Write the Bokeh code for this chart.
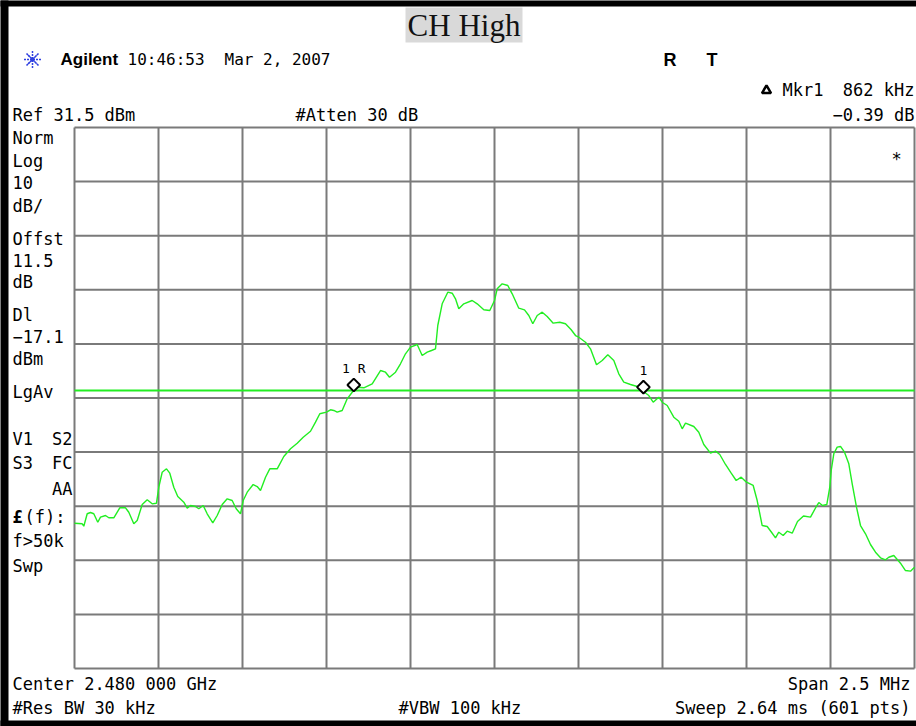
from bokeh.plotting import figure
from bokeh.models import Range1d
from bokeh.core.properties import value
from bokeh.embed import file_html
from bokeh.resources import INLINE

# ---------------- data ----------------
CENTER_GHZ = 2.480
SPAN_MHZ = 2.5
REF_DBM = 31.5
DB_PER_DIV = 10
N_DIV = 10
DISPLAY_LINE_DBM = -17.1

freq_offset_mhz = [-1.2500, -1.2271, -1.2223, -1.2122, -1.2024, -1.1926, -1.1807, -1.1726, -1.1577, -1.1479,
    -1.1330, -1.1152, -1.0982, -1.0884, -1.0735, -1.0634, -1.0485, -1.0336, -1.0188, -1.0060,
    -0.9991, -0.9890, -0.9762, -0.9664, -0.9545, -0.9426, -0.9247, -0.9146, -0.9048, -0.8899,
    -0.8801, -0.8670, -0.8551, -0.8384, -0.8253, -0.8104, -0.7955, -0.7807, -0.7688, -0.7560,
    -0.7479, -0.7360, -0.7182, -0.7063, -0.6964, -0.6815, -0.6688, -0.6467, -0.6271, -0.6071,
    -0.5872, -0.5693, -0.5476, -0.5327, -0.5199, -0.5000, -0.4881, -0.4783, -0.4682, -0.4533,
    -0.4384, -0.4235, -0.4086, -0.3890, -0.3640, -0.3393, -0.3244, -0.3125, -0.2946, -0.2798,
    -0.2649, -0.2500, -0.2301, -0.2152, -0.2003, -0.1875, -0.1756, -0.1688, -0.1557, -0.1390,
    -0.1259, -0.1161, -0.1063, -0.0914, -0.0664, -0.0515, -0.0318, -0.0140, 0.0000, 0.0080,
    0.0229, 0.0396, 0.0527, 0.0723, 0.0893, 0.1021, 0.1140, 0.1271, 0.1420, 0.1568,
    0.1747, 0.1943, 0.2113, 0.2283, 0.2411, 0.2509, 0.2708, 0.2857, 0.3036, 0.3205,
    0.3372, 0.3551, 0.3699, 0.3848, 0.4048, 0.4247, 0.4464, 0.4592, 0.4723, 0.4890,
    0.4991, 0.5140, 0.5336, 0.5485, 0.5586, 0.5685, 0.5932, 0.6080, 0.6229, 0.6429,
    0.6577, 0.6705, 0.6875, 0.7045, 0.7193, 0.7342, 0.7500, 0.7699, 0.7818, 0.7967,
    0.8116, 0.8244, 0.8363, 0.8461, 0.8592, 0.8711, 0.8860, 0.9018, 0.9196, 0.9405,
    0.9554, 0.9652, 0.9762, 0.9890, 0.9979, 1.0021, 1.0098, 1.0199, 1.0298, 1.0417,
    1.0545, 1.0646, 1.0774, 1.0893, 1.1042, 1.1190, 1.1339, 1.1488, 1.1637, 1.1735,
    1.1884, 1.2083, 1.2232, 1.2381, 1.2500]

level_dbm = [-41.64, -41.75, -42.20, -39.90, -39.66, -39.90, -41.46, -40.53, -40.22, -40.64,
    -40.64, -38.80, -38.80, -39.61, -41.75, -41.14, -38.19, -37.32, -38.06, -37.95,
    -34.99, -32.22, -31.59, -32.40, -34.99, -36.71, -37.76, -38.87, -38.37, -38.56,
    -38.98, -38.37, -39.90, -41.57, -40.22, -38.19, -37.13, -37.45, -38.98, -39.90,
    -37.45, -35.91, -34.49, -34.86, -35.60, -33.14, -31.59, -31.59, -29.31, -27.89,
    -26.85, -25.75, -24.64, -22.97, -21.42, -21.12, -20.68, -20.81, -21.12, -20.81,
    -18.65, -17.43, -16.50, -16.61, -15.88, -13.42, -13.73, -14.66, -13.73, -12.18,
    -10.33, -9.11, -8.61, -10.64, -10.03, -9.72, -9.41, -5.10, -1.09, 1.06,
    0.87, -0.16, -2.01, -1.09, -0.48, -1.09, -2.20, -2.33, -0.48, 1.68,
    2.61, 2.29, 0.76, -1.90, -2.20, -3.25, -4.78, -3.25, -2.64, -3.44,
    -4.67, -4.49, -4.78, -5.89, -6.95, -7.26, -8.19, -9.41, -12.36, -11.57,
    -10.51, -11.57, -14.03, -15.58, -16.00, -16.37, -17.43, -18.04, -19.28, -18.35,
    -19.28, -19.89, -22.05, -22.79, -24.19, -23.16, -23.77, -24.82, -27.10, -28.70,
    -28.33, -28.94, -30.79, -32.40, -33.75, -33.14, -34.06, -34.67, -37.45, -42.07,
    -42.25, -43.31, -44.34, -43.31, -43.92, -43.12, -43.49, -41.33, -40.31, -40.53,
    -38.83, -37.82, -38.37, -38.19, -34.99, -31.90, -28.81, -27.59, -27.46, -28.52,
    -30.66, -34.36, -38.68, -42.07, -43.60, -45.58, -47.00, -48.04, -48.41, -47.93,
    -47.61, -49.04, -50.39, -50.51, -49.77]

assert len(freq_offset_mhz) == len(level_dbm)

MKR_REF_FREQ = -0.4188      # MHz offset of marker "1R"
MKR_REF_LEVEL = -16.1       # dBm (diamond)
MKR_DELTA_FREQ = 0.862      # MHz
MKR_DELTA_DB = -0.39        # dB

# ---------------- layout ----------------
W, H = 916, 726
GX0, GX1 = 74, 914      # grid left/right in canvas px
GY0, GY1 = 127, 668     # grid top/bottom in canvas px
ppm = (GX1 - GX0) / SPAN_MHZ
ppd = (GY1 - GY0) / (N_DIV * DB_PER_DIV)
x_start = -SPAN_MHZ / 2 - GX0 / ppm
x_end = x_start + W / ppm
y_top = REF_DBM + GY0 / ppd
y_bot = y_top - H / ppd


def X(rx):
    return x_start + rx / ppm


def Y(ry):
    return y_top - ry / ppd


p = figure(width=W, height=H, x_range=Range1d(x_start, x_end), y_range=Range1d(y_bot, y_top),
           x_axis_type=None, y_axis_type=None, toolbar_location=None, output_backend="svg",
           min_border=0, min_border_left=0, min_border_right=0, min_border_top=0, min_border_bottom=0)
p.outline_line_color = None
p.background_fill_color = "white"
p.border_fill_color = "white"

MONO = "DejaVu Sans Mono"


def txt(rx, ry, s, size=17, font=MONO, align="left", style="normal", color="black"):
    p.text(x=[X(rx)], y=[Y(ry)], text=[s], text_font=value(font), text_font_size=f"{size}px",
           text_align=align, text_baseline="middle", text_font_style=style, text_color=color)


# black frame bars (left, top, bottom)
p.quad(left=[X(-10), X(-10), X(-10)], right=[X(8), X(930), X(930)],
       top=[Y(-10), Y(-10), Y(720)], bottom=[Y(740), Y(6), Y(740)],
       fill_color="black", line_color=None)

# graticule
half = SPAN_MHZ / 2
bottom_db = REF_DBM - N_DIV * DB_PER_DIV
vx = [[-half + i * SPAN_MHZ / N_DIV] * 2 for i in range(N_DIV + 1)]
vy = [[REF_DBM, bottom_db] for _ in range(N_DIV + 1)]
hx = [[-half, half] for _ in range(N_DIV + 1)]
hy = [[REF_DBM - j * DB_PER_DIV] * 2 for j in range(N_DIV + 1)]
p.multi_line(vx + hx, vy + hy, line_color="#7a7a7a", line_width=2)

# display line
p.line(x=[-half, half], y=[DISPLAY_LINE_DBM, DISPLAY_LINE_DBM], line_color="#22ee22", line_width=2)

# trace
p.line(x=freq_offset_mhz, y=level_dbm, line_color="#22ee22", line_width=1.4)

# markers
mk_x = [MKR_REF_FREQ, MKR_REF_FREQ + MKR_DELTA_FREQ]
mk_y = [MKR_REF_LEVEL, MKR_REF_LEVEL + MKR_DELTA_DB]
p.scatter(x=mk_x, y=mk_y, marker="square", angle=45, angle_units="deg", size=9,
          fill_color="white", line_color="black", line_width=2)
p.text(x=mk_x, y=[v + 3.0 for v in mk_y], text=["1 R", "1"], text_font=value(MONO), text_font_size="13px",
       text_align="center", text_baseline="middle", text_color="black")

# title box
p.quad(left=[X(405)], right=[X(522)], top=[Y(7)], bottom=[Y(42)], fill_color="#d9d9d9", line_color=None)
txt(463.5, 25, "CH High", size=31, font="Liberation Serif", align="center", color="#111111")

# Agilent logo and header
p.scatter(x=[X(32)], y=[Y(59)], marker="asterisk", size=17, line_color="#3040e0", line_width=1.5, line_dash="2 1")
p.scatter(x=[X(32)], y=[Y(59)], marker="x", size=13, line_color="#3040e0", line_width=1.2, line_dash="2 1")
txt(60, 59, "Agilent", size=17, font="Liberation Sans", style="bold")
txt(127, 59, "10:46:53", size=16)
txt(224, 59, "Mar 2, 2007", size=16)
txt(663, 59, "R", size=18, font="Liberation Sans", style="bold")
txt(706, 59, "T", size=18, font="Liberation Sans", style="bold")

p.scatter(x=[X(766)], y=[Y(90)], marker="triangle", size=9, fill_color="white", line_color="black", line_width=2.5)
txt(782, 89, "Mkr1")
txt(914, 89, f"{MKR_DELTA_FREQ * 1000:.0f} kHz", align="right")
txt(914, 114, f"\u2212{abs(MKR_DELTA_DB):.2f} dB", align="right")
txt(12, 114, f"Ref {REF_DBM} dBm")
txt(295, 114, "#Atten 30 dB")

left_texts = [(137, "Norm"), (160, "Log"), (182, f"{DB_PER_DIV}"), (205, "dB/"), (238, "Offst"),
              (260, "11.5"), (281, "dB"), (314, "Dl"), (336, f"\u2212{abs(DISPLAY_LINE_DBM)}"),
              (358, "dBm"), (391, "LgAv"), (438, "V1"), (462, "S3"),
              (540, "f>50k"), (565, "Swp")]
for ry, s in left_texts:
    txt(12, ry, s)
txt(72, 438, "S2", align="right")
txt(72, 462, "FC", align="right")
txt(72, 488, "AA", align="right")
txt(12, 516, "\u00a3", style="bold")
txt(24, 516, "(f):")

txt(896, 158, "*", align="center")

txt(12, 683, f"Center {CENTER_GHZ:.3f} 000 GHz")
txt(910, 683, f"Span {SPAN_MHZ} MHz", align="right")
txt(12, 707, "#Res BW 30 kHz")
txt(398, 707, "#VBW 100 kHz")
txt(910, 707, "Sweep 2.64 ms (601 pts)", align="right")

open("out.html", "w").write(file_html(p, INLINE))
